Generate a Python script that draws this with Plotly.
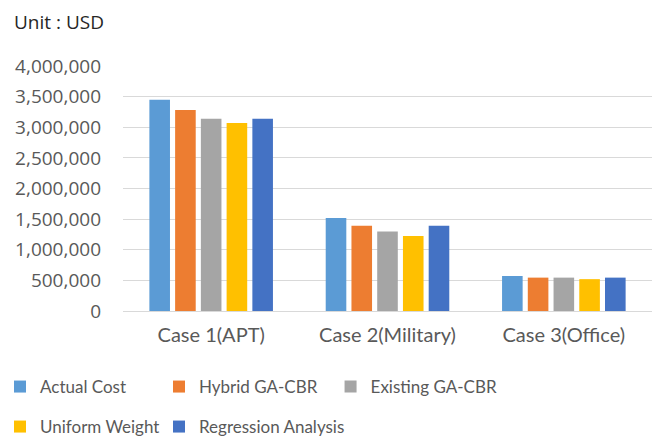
import plotly.graph_objects as go

categories = ["Case 1(APT)", "Case 2(Military)", "Case 3(Office)"]
series_names = ["Actual Cost", "Hybrid GA-CBR", "Existing GA-CBR", "Uniform Weight", "Regression Analysis"]
actual_cost = [3450000, 1520000, 572000]
hybrid_ga_cbr = [3280000, 1390000, 545000]
existing_ga_cbr = [3140000, 1300000, 545000]
uniform_weight = [3070000, 1225000, 520000]
regression_analysis = [3140000, 1390000, 545000]
tick_values = [0, 500000, 1000000, 1500000, 2000000, 2500000, 3000000, 3500000, 4000000]
tick_labels = ["0", "500,000", "1,000,000", "1,500,000", "2,000,000", "2,500,000",
               "3,000,000", "3,500,000", "4,000,000"]

colors = ["#5B9BD5", "#ED7D31", "#A5A5A5", "#FFC000", "#4472C4"]
values = [actual_cost, hybrid_ga_cbr, existing_ga_cbr, uniform_weight, regression_analysis]
legend_ids = ["legend", "legend2", "legend3", "legend4", "legend5"]
# legend positions (container fractions)
legend_x = [-0.0245, 0.2439, 0.507, -0.0245, 0.2439]
legend_y = [1 - 387 / 439, 1 - 387 / 439, 1 - 387 / 439, 1 - 427 / 439, 1 - 427 / 439]

fig = go.Figure()
for name, vals, col, lg in zip(series_names, values, colors, legend_ids):
    fig.add_trace(go.Bar(x=categories, y=vals, name=name, marker_color=col,
                         marker_line_width=0, legend=lg))

layout_legends = {}
for lg, lx, ly in zip(legend_ids, legend_x, legend_y):
    layout_legends[lg] = dict(orientation="h", xref="container", yref="container",
                              x=lx, y=ly, xanchor="left", yanchor="middle",
                              font=dict(family="Lato, sans-serif", size=17, color="#595959"),
                              itemwidth=30, bgcolor="rgba(0,0,0,0)")

fig.update_layout(
    width=652, height=439,
    margin=dict(l=123, r=0, t=66, b=128, autoexpand=False),
    paper_bgcolor="white", plot_bgcolor="white",
    barmode="group", bargap=0.27, bargroupgap=0.2,
    font=dict(family="Open Sans, sans-serif", color="#595959"),
    xaxis=dict(tickfont=dict(size=20, color="#595959", family="Lato, sans-serif"),
               showgrid=False, ticks="", showline=False, automargin=False,
               ticklabelstandoff=10),
    yaxis=dict(range=[0, 4000000], tickvals=tick_values, ticktext=tick_labels,
               tickfont=dict(size=19, color="#595959"), automargin=False,
               gridcolor="#D9D9D9", gridwidth=1, zeroline=True, zerolinecolor="#D9D9D9",
               zerolinewidth=1, ticklabelstandoff=21),
    showlegend=True,
    annotations=[dict(text="Unit : USD", xref="paper", yref="paper", x=-0.21, y=1.18,
                      xanchor="left", yanchor="middle", showarrow=False,
                      font=dict(size=19, color="#262626", family="Open Sans, sans-serif"))],
    **layout_legends,
)

fig.write_html("out.html", config={"displayModeBar": False},
               post_script="document.body.style.margin='0';document.body.style.overflow='hidden';")
